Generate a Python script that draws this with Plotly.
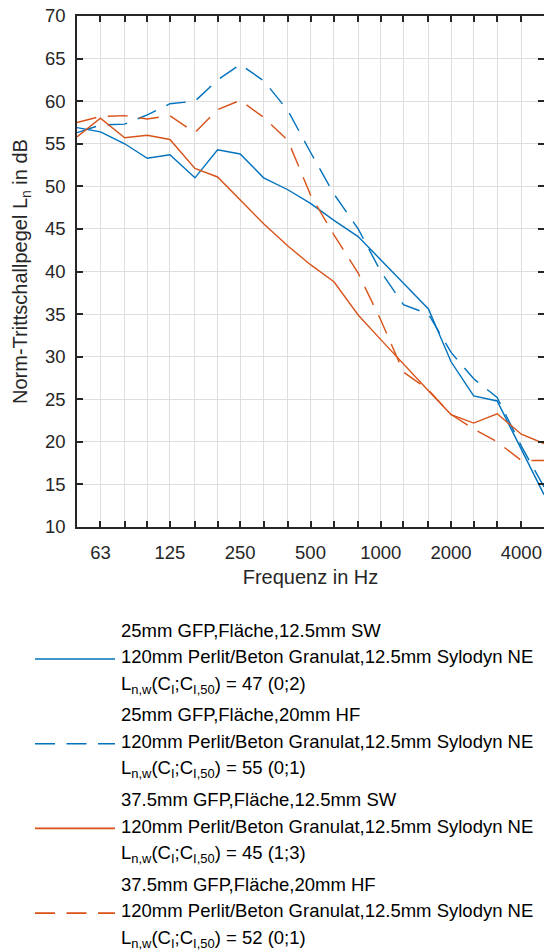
import plotly.graph_objects as go

# ---------------- data ----------------
freqs = [50, 63, 80, 100, 125, 160, 200, 250, 315, 400, 500, 630, 800,
         1000, 1250, 1600, 2000, 2500, 3150, 4000, 5000]
tick_labels_x = ["63", "125", "250", "500", "1000", "2000", "4000"]
tick_vals_y = [10, 15, 20, 25, 30, 35, 40, 45, 50, 55, 60, 65, 70]

ln_25_sw = [56.9, 56.4, 55.0, 53.3, 53.7, 51.0, 54.3, 53.8, 51.0, 49.6, 48.0,
            46.0, 44.1, 41.4, 38.6, 35.6, 29.4, 25.4, 24.8, 19.1, 13.8]
ln_25_hf = [56.3, 57.2, 57.3, 58.4, 59.7, 60.0, 62.5, 64.3, 62.4, 58.9, 54.0,
            49.1, 45.0, 40.0, 36.1, 35.0, 30.5, 27.4, 25.2, 19.5, 14.7]
ln_375_sw = [55.8, 58.0, 55.7, 56.0, 55.5, 52.1, 51.1, 48.4, 45.6, 43.0, 40.8,
             38.8, 34.9, 32.0, 29.1, 26.0, 23.2, 22.2, 23.3, 20.9, 19.8]
ln_375_hf = [57.5, 58.2, 58.3, 57.9, 58.3, 56.3, 59.0, 60.1, 58.1, 55.4, 49.0,
             44.3, 39.8, 34.3, 28.2, 26.1, 23.2, 21.5, 20.0, 17.8, 17.8]

legend_lines = [
    ["25mm GFP,Fläche,12.5mm SW",
     "120mm Perlit/Beton Granulat,12.5mm Sylodyn NE",
     "L<sub>n,w</sub>(C<sub>I</sub>;C<sub>I,50</sub>) = 47 (0;2)"],
    ["25mm GFP,Fläche,20mm HF",
     "120mm Perlit/Beton Granulat,12.5mm Sylodyn NE",
     "L<sub>n,w</sub>(C<sub>I</sub>;C<sub>I,50</sub>) = 55 (0;1)"],
    ["37.5mm GFP,Fläche,12.5mm SW",
     "120mm Perlit/Beton Granulat,12.5mm Sylodyn NE",
     "L<sub>n,w</sub>(C<sub>I</sub>;C<sub>I,50</sub>) = 45 (1;3)"],
    ["37.5mm GFP,Fläche,20mm HF",
     "120mm Perlit/Beton Granulat,12.5mm Sylodyn NE",
     "L<sub>n,w</sub>(C<sub>I</sub>;C<sub>I,50</sub>) = 52 (0;1)"],
]

# ---------------- styles ----------------
BLUE = "#0072BD"
ORANGE = "#D95319"
DASH = "20px,11.5px"
series = [
    (ln_25_sw, BLUE, "solid"),
    (ln_25_hf, BLUE, DASH),
    (ln_375_sw, ORANGE, "solid"),
    (ln_375_hf, ORANGE, DASH),
]
AX = "#262626"
GRID = "#dedede"
FONT = "Liberation Sans, Arial, sans-serif"

W, H = 544, 950
ML, MR, MT, MB = 77, 0, 16, 423
PW = W - ML - MR
PH = H - MT - MB


def px_x(x):
    return (x - ML) / PW


def px_y(y):
    return (H - MB - y) / PH


fig = go.Figure()
for (vals, col, dash), lines in zip(series, legend_lines):
    fig.add_trace(go.Scatter(
        x=freqs, y=vals, mode="lines",
        line=dict(color=col, width=1.4, dash=dash),
        name=" ".join(lines[:2]), showlegend=False, hoverinfo="x+y"))

major_x = [f for f in freqs if str(f) in tick_labels_x]
minor_x = [f for f in freqs if str(f) not in tick_labels_x]

fig.update_xaxes(
    type="log", range=[1.69897, 3.69897],
    tickmode="array", tickvals=major_x, ticktext=tick_labels_x,
    ticks="inside", ticklen=6, tickwidth=1.5, tickcolor=AX,
    showline=True, linecolor=AX, linewidth=1.5, mirror="ticks",
    showgrid=True, gridcolor=GRID, gridwidth=1, zeroline=False,
    minor=dict(tickmode="array", tickvals=minor_x, ticks="inside",
               ticklen=6, tickwidth=1.5, tickcolor=AX,
               showgrid=True, gridcolor=GRID, gridwidth=1),
    tickfont=dict(size=18.5, color=AX, family=FONT),
    ticklabelstandoff=8,
    title=dict(text="Frequenz in Hz", font=dict(size=20, color=AX, family=FONT),
               standoff=8),
)
fig.update_yaxes(
    range=[10, 70], tickmode="array", tickvals=tick_vals_y,
    ticks="inside", ticklen=6, tickwidth=1.5, tickcolor=AX,
    showline=True, linecolor=AX, linewidth=1.5, mirror="ticks",
    showgrid=True, gridcolor=GRID, gridwidth=1, zeroline=False,
    tickfont=dict(size=18.5, color=AX, family=FONT),
    ticklabelstandoff=6,
    title=dict(text="Norm-Trittschallpegel L<sub>n</sub> in dB",
               font=dict(size=20, color=AX, family=FONT), standoff=12),
)

# ---------------- legend (drawn manually) ----------------
first_line_y = 630.0
line_step = 26.6
entry_step = 84.7
sample_y_off = 29.0
annotations = []
shapes = []
for k, ((vals, col, dash), lines) in enumerate(zip(series, legend_lines)):
    base = first_line_y + k * entry_step
    for j, txt in enumerate(lines):
        yy = base + j * line_step
        if "<sub>" in txt:
            yy += 1.4
        annotations.append(dict(
            text=txt, x=px_x(119), y=px_y(yy), xref="paper", yref="paper",
            xanchor="left", yanchor="middle", showarrow=False,
            font=dict(size=18.5, color="#000000", family=FONT)))
    sy = base + sample_y_off
    shapes.append(dict(
        type="line", xref="paper", yref="paper",
        x0=px_x(35), x1=px_x(115), y0=px_y(sy), y1=px_y(sy),
        line=dict(color=col, width=1.6, dash=dash)))

fig.update_layout(
    width=W, height=H,
    margin=dict(l=ML, r=MR, t=MT, b=MB, autoexpand=False),
    paper_bgcolor="white", plot_bgcolor="white",
    font=dict(family=FONT, color=AX),
    showlegend=False,
    annotations=annotations, shapes=shapes,
)

fig.write_html("out.html")
